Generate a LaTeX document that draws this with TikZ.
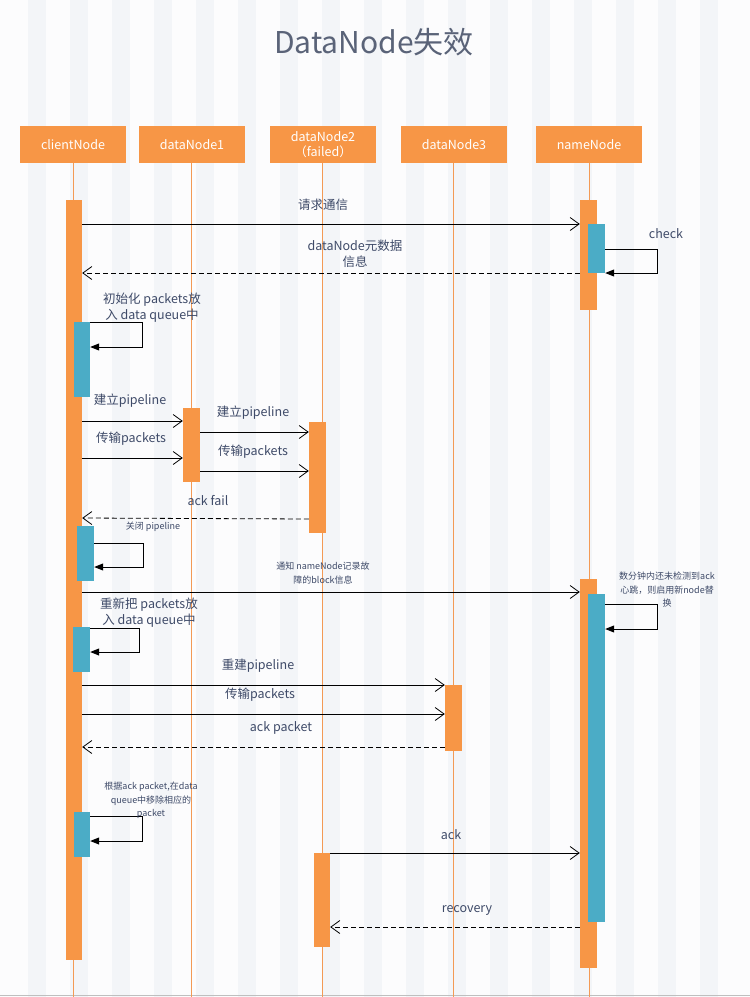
\documentclass[tikz,border=0pt]{standalone}
\usepackage{fontspec}
\setmainfont{Noto Sans CJK SC}
\usetikzlibrary{arrows.meta}
\definecolor{bgw}{HTML}{FCFCFD}
\definecolor{bgs}{HTML}{F3F5F8}
\definecolor{org}{HTML}{F79646}
\definecolor{lif}{HTML}{F39A55}
\definecolor{blu}{HTML}{4BACC6}
\definecolor{txt}{HTML}{3E4A68}
\definecolor{ttl}{HTML}{5A6378}
\tikzset{
  hdr/.style={fill=org, draw=none, minimum width=106pt, minimum height=37pt, inner sep=0pt, text=white, font=\fontsize{12.5}{14.5}\selectfont, align=center},
  bar/.style={fill=org, draw=none, inner sep=0pt},
  act/.style={fill=blu, draw=none, inner sep=0pt},
  life/.style={draw=lif, line width=0.9pt},
  msg/.style={draw=black, line width=0.8pt, -{Straight Barb[length=9pt,width=13pt,line width=0.8pt]}},
  ret/.style={msg, dash pattern=on 5pt off 3pt},
  selfloop/.style={draw=black, line width=0.9pt, -{Triangle[length=9pt,width=7pt]}},
  lbl/.style={text=txt, inner sep=0pt, font=\fontsize{12.5}{16}\selectfont, align=center},
  slbl/.style={text=txt, inner sep=0pt, font=\fontsize{9}{13.5}\selectfont, align=center},
}
\begin{document}
\begin{tikzpicture}[x=1pt, y=-1pt]
\useasboundingbox (0,0) rectangle (750,997);
% background
\fill[bgw] (0,0) rectangle (750,997);
\foreach \k in {0,...,16} \fill[bgs] ({28+42*\k},0) rectangle ++(18,997);
\draw[draw=gray!50, line width=1.5pt] (0,995.5) -- (750,995.5);
% title
\node[text=ttl, inner sep=0pt, font=\fontsize{30}{34}\selectfont] (title) at (374,42) {DataNode失效};
% headers
\node[hdr] (hC) at (73,144.5) {clientNode};
\node[hdr] (h1) at (192,144.5) {dataNode1};
\node[hdr] (h2) at (323,144.5) {dataNode2\\（failed）};
\node[hdr] (h3) at (454,144.5) {dataNode3};
\node[hdr] (hN) at (589,144.5) {nameNode};
% lifelines
\coordinate (eC) at (73,997);
\coordinate (e1) at (191,997);
\coordinate (e2) at (322,997);
\coordinate (e3) at (453,997);
\coordinate (eN) at (589,997);
\draw[life] (hC.south -| eC) -- (eC);
\draw[life] (h1.south -| e1) -- (e1);
\draw[life] (h2.south -| e2) -- (e2);
\draw[life] (h3.south -| e3) -- (e3);
\draw[life] (hN.south -| eN) -- (eN);
% orange bars
\node[bar, minimum width=16pt, minimum height=760pt] (cMain) at (74,580) {};
\node[bar, minimum width=17pt, minimum height=110pt] (nA) at (588.5,255) {};
\node[bar, minimum width=17pt, minimum height=74pt] (d1A) at (191.5,445) {};
\node[bar, minimum width=17pt, minimum height=111pt] (d2A) at (317.5,477.5) {};
\node[bar, minimum width=17pt, minimum height=389pt] (nB) at (588.5,773.5) {};
\node[bar, minimum width=17pt, minimum height=66pt] (d3A) at (453.5,718) {};
\node[bar, minimum width=16pt, minimum height=94pt] (d2B) at (322,900) {};
% blue bars
\node[act, minimum width=17pt, minimum height=49pt] (nAb) at (596.5,248.5) {};
\node[act, minimum width=16pt, minimum height=75pt] (cB1) at (82,359.5) {};
\node[act, minimum width=17pt, minimum height=55pt] (cB2) at (85.5,553.5) {};
\node[act, minimum width=17pt, minimum height=328pt] (nBb) at (596.5,758) {};
\node[act, minimum width=17pt, minimum height=45pt] (cB3) at (81.5,649.5) {};
\node[act, minimum width=16pt, minimum height=45pt] (cB4) at (82,834.5) {};
% messages
\draw[msg] (cMain.east |- 0,224) -- (nA.west |- 0,224);
\node[lbl] (l1) at (323,205) {请求通信};
\draw[ret] (nA.west |- 0,273) -- (cMain.east |- 0,273);
\node[lbl] (l2) at (355,254) {dataNode元数据\\信息};
\draw[selfloop] (nAb.east |- 0,249) -- (657,249) -- (657,273) -- (nAb.east |- 0,273);
\node[lbl] (l3) at (666,234) {check};
\draw[selfloop] (cB1.east |- 0,322) -- (142,322) -- (142,347) -- (cB1.east |- 0,347);
\node[lbl] (l4) at (152,307.5) {初始化 packets放\\入 data queue中};
\draw[msg] (cMain.east |- 0,421) -- (d1A.west |- 0,421);
\node[lbl] (l5) at (130,401) {建立pipeline};
\draw[msg] (cMain.east |- 0,458) -- (d1A.west |- 0,458);
\node[lbl] (l6) at (131,439) {传输packets};
\draw[msg] (d1A.east |- 0,432) -- (d2A.west |- 0,432);
\node[lbl] (l7) at (253,413) {建立pipeline};
\draw[msg] (d1A.east |- 0,471) -- (d2A.west |- 0,471);
\node[lbl] (l8) at (253,452) {传输packets};
\draw[ret] (d2A.west |- 0,519) -- (cMain.east |- 0,518);
\node[lbl] (l9) at (208,501) {ack fail};
\draw[selfloop] (cB2.east |- 0,543) -- (143,543) -- (143,567) -- (cB2.east |- 0,567);
\node[slbl] (l10) at (153,527) {关闭 pipeline};
\draw[msg] (cMain.east |- 0,592) -- (nB.west |- 0,592);
\node[slbl] (l11) at (323,573) {通知 nameNode记录故\\障的block信息};
\draw[selfloop] (nBb.east |- 0,604) -- (657,604) -- (657,629) -- (nBb.east |- 0,629);
\node[slbl] (l12) at (667,590) {数分钟内还未检测到ack\\心跳，则启用新node替\\换};
\draw[selfloop] (cB3.east |- 0,628) -- (139,628) -- (139,652) -- (cB3.east |- 0,652);
\node[lbl] (l13) at (149,612.5) {重新把 packets放\\入 data queue中};
\draw[msg] (cMain.east |- 0,685) -- (d3A.west |- 0,685);
\node[lbl] (l14) at (258,666) {重建pipeline};
\draw[msg] (cMain.east |- 0,714) -- (d3A.west |- 0,714);
\node[lbl] (l15) at (260,695) {传输packets};
\draw[ret] (d3A.west |- 0,747) -- (cMain.east |- 0,747);
\node[lbl] (l16) at (281,728) {ack packet};
\draw[selfloop] (cB4.east |- 0,816) -- (142,816) -- (142,841) -- (cB4.east |- 0,841);
\node[slbl] (l17) at (151,800.5) {根据ack packet,在data\\queue中移除相应的\\packet};
\draw[msg] (d2B.east |- 0,853) -- (nB.west |- 0,853);
\node[lbl] (l18) at (451,835) {ack};
\draw[ret] (nB.west |- 0,927) -- (d2B.east |- 0,927);
\node[lbl] (l19) at (467,910) {recovery};
\end{tikzpicture}
\end{document}
